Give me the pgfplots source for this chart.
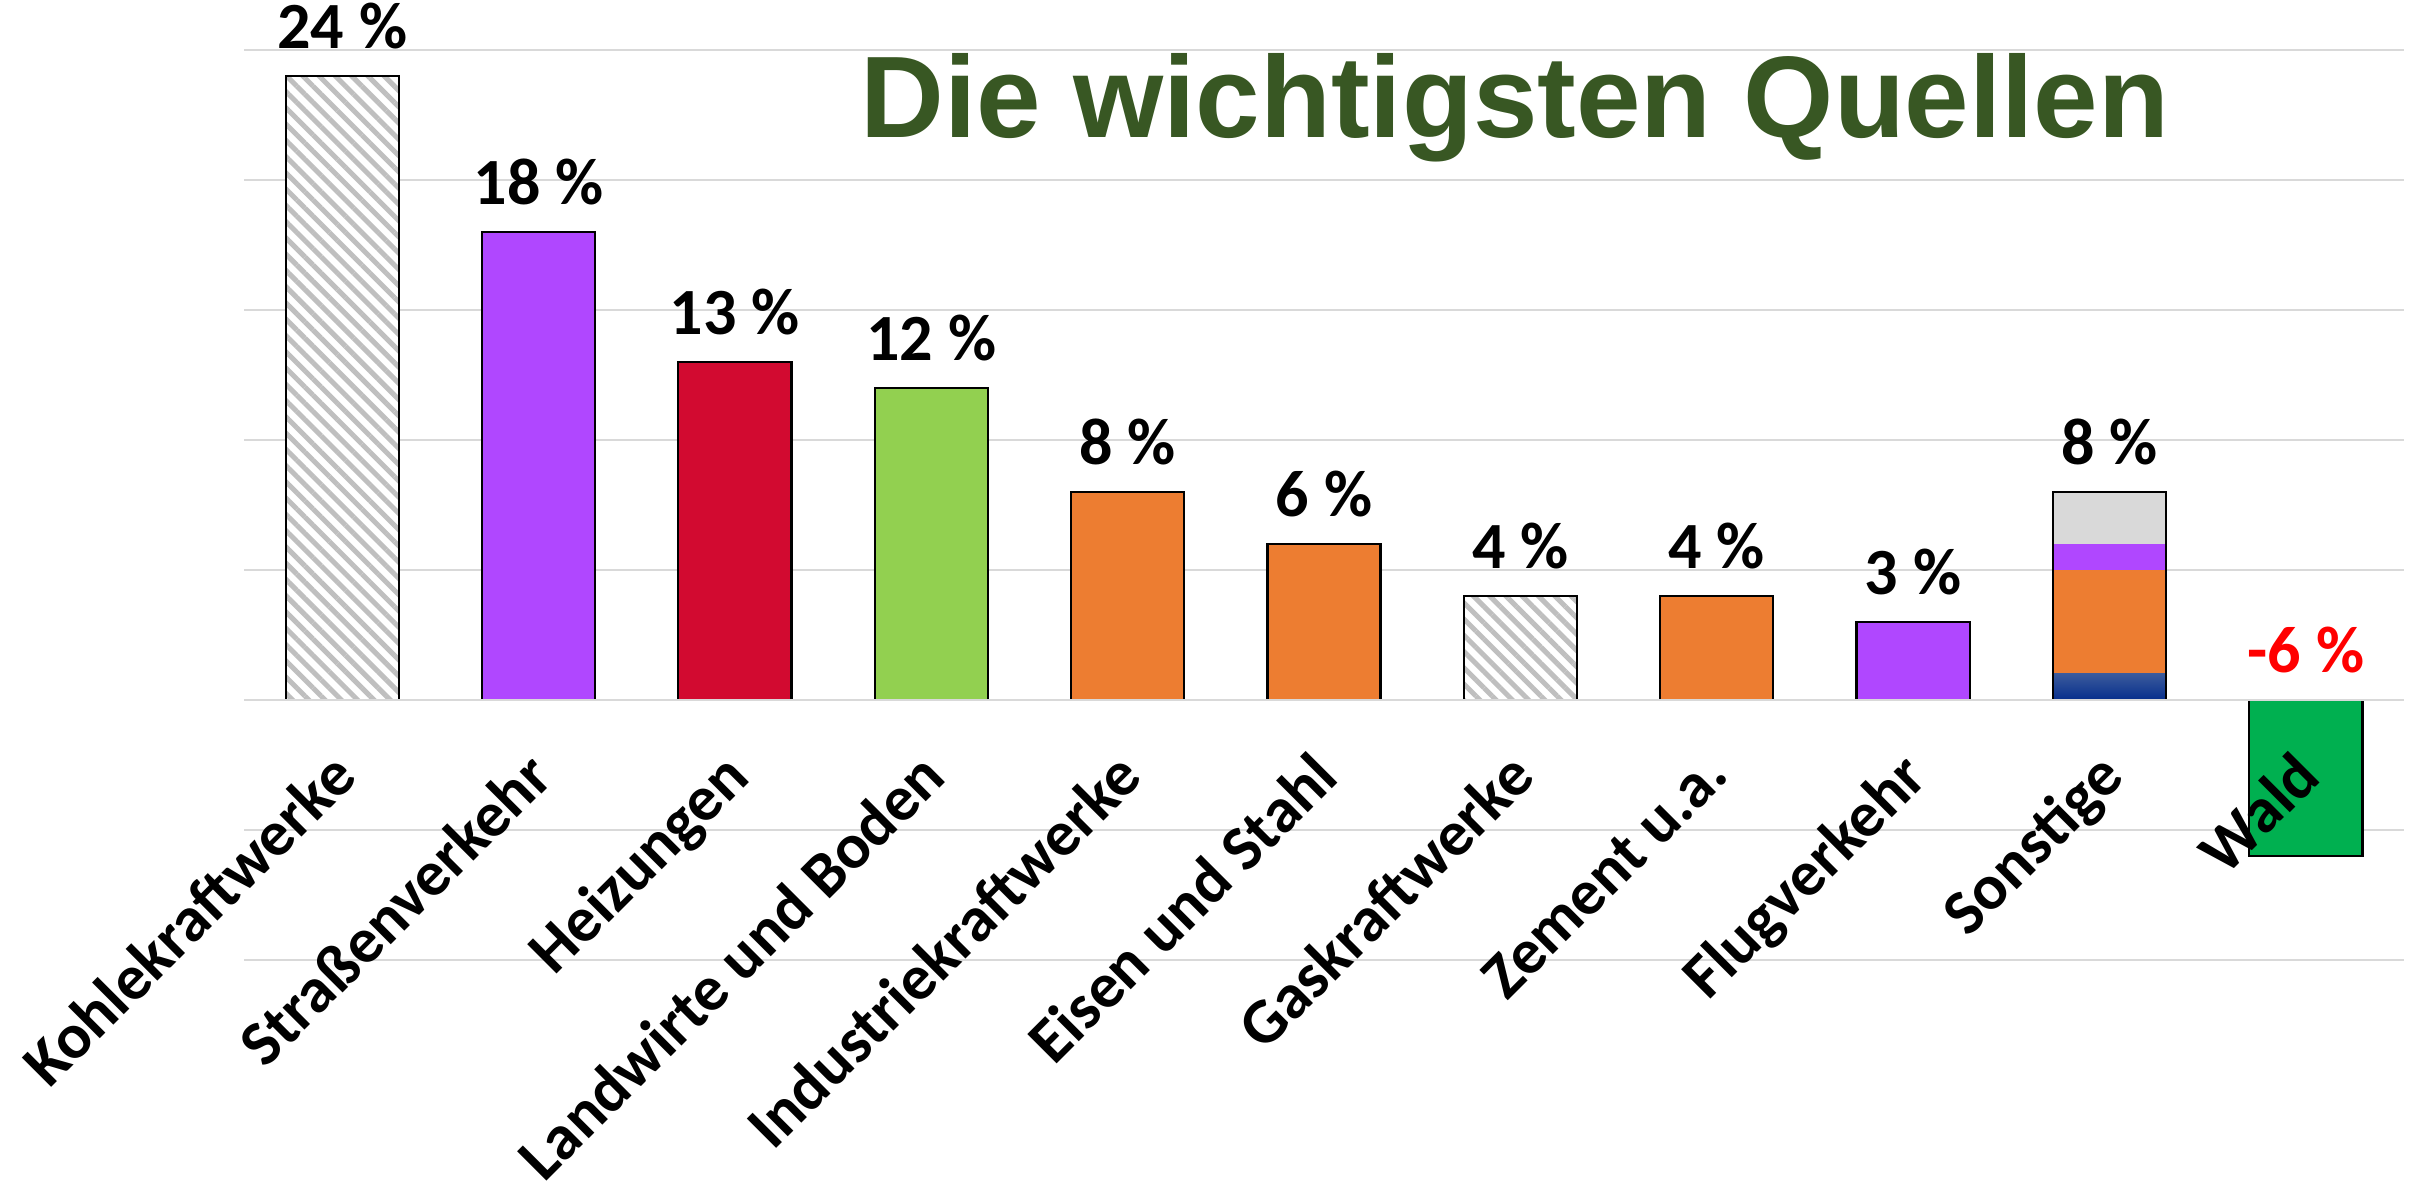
\documentclass[border=0pt]{standalone}
\usepackage{pgfplots}
\pgfplotsset{compat=1.18}
\usepackage{fontspec}
\setmainfont{Carlito}
\newfontfamily\titlefont{Liberation Sans}
\usetikzlibrary{patterns.meta}
\definecolor{cpurple}{HTML}{B047FF}
\definecolor{cred}{HTML}{D20A30}
\definecolor{clgreen}{HTML}{92D050}
\definecolor{corange}{HTML}{ED7D31}
\definecolor{cgreen}{HTML}{00B050}
\definecolor{cgrid}{HTML}{D9D9D9}
\definecolor{chatch}{HTML}{BFBFBF}
\definecolor{ctitle}{HTML}{385723}
\definecolor{cbluebot}{HTML}{062E8C}
\definecolor{cbluetop}{HTML}{3A5A9C}
\begin{document}
\begin{tikzpicture}
\begin{axis}[
  set layers,
  at={(48.8pt,45.6pt)}, anchor=south west,
  scale only axis, width=432pt, height=182pt,
  xmin=-0.5, xmax=10.5, ymin=-10, ymax=25,
  ytick={-10,-5,...,25}, yticklabels={},
  ymajorgrids, grid style={cgrid, line width=0.5pt},
  axis line style={draw=none}, major tick length=0pt,
  xtick={0,...,10},
  xticklabels={Kohlekraftwerke,Straßenverkehr,Heizungen,Landwirte und Boden,Industriekraftwerke,Eisen und Stahl,Gaskraftwerke,Zement u.a.,Flugverkehr,Sonstige,Wald},
  xticklabel style={/pgfplots/on layer=axis foreground, xshift=-3pt, yshift=42.6pt, rotate=45, anchor=north east, inner sep=0pt,
    font=\bfseries\fontsize{12.8}{14}\selectfont},
  ybar, bar width=0.576, bar shift=0pt,
  every axis plot/.append style={draw=black, line width=0.45pt},
  nodes near coords style={anchor=base, yshift=5.4pt, font=\bfseries\fontsize{13.2}{15}\selectfont, inner sep=0pt},
  clip=false,
]
% hatched
\addplot[fill=white, postaction={pattern={Lines[angle=-45,distance=2.3pt,line width=1pt]}, pattern color=chatch}]
  coordinates {(0,24) (6,4)};
\addplot[fill=cpurple] coordinates {(1,18) (8,3)};
\addplot[fill=cred] coordinates {(2,13)};
\addplot[fill=clgreen] coordinates {(3,12)};
\addplot[fill=corange] coordinates {(4,8) (5,6) (7,4)};
% Sonstige stacked pieces
\addplot[fill=cgrid, draw=none] coordinates {(9,8)};
\addplot[fill=cpurple, draw=none] coordinates {(9,6)};
\addplot[fill=corange, draw=none] coordinates {(9,5)};
\addplot[top color=cbluetop, bottom color=cbluebot, draw=none] coordinates {(9,1)};
\addplot[fill=none] coordinates {(9,8)};
% Wald
\addplot[fill=cgreen] coordinates {(10,-6)};
% zero line
\addplot[ybar=false, sharp plot, cgrid, line width=0.5pt, draw=cgrid] coordinates {(-0.5,0) (10.5,0)};
% value labels
\addplot[draw=none, fill=none, nodes near coords, point meta=explicit symbolic]
  coordinates {(0,24)[24 \%] (1,18)[18 \%] (2,13)[13 \%] (3,12)[12 \%] (4,8)[8 \%] (5,6)[6 \%] (6,4)[4 \%] (7,4)[4 \%] (8,3)[3 \%] (9,8)[8 \%]};
\addplot[draw=none, fill=none, nodes near coords, point meta=explicit symbolic,
  nodes near coords style={text=red}]
  coordinates {(10,0)[-6 \%]};
\end{axis}
\node[anchor=base, text=ctitle, font=\titlefont\bfseries\fontsize{23.2}{26}\selectfont, inner sep=0pt] at (303pt,210pt) {Die wichtigsten Quellen};
\pgfresetboundingbox
\path[use as bounding box] (0,0) rectangle (484.8pt,237.6pt);
\end{tikzpicture}
\end{document}
